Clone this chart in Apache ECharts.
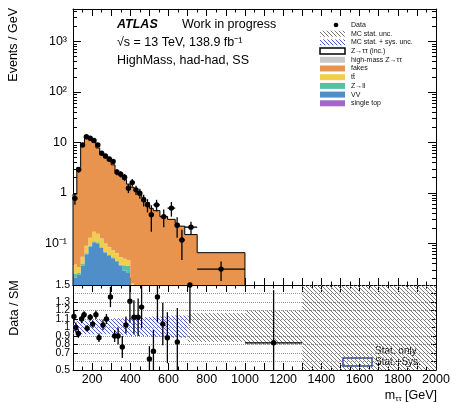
<!DOCTYPE html>
<html>
<head>
<meta charset="utf-8">
<script src="https://cdn.jsdelivr.net/npm/echarts@6.0.0/dist/echarts.min.js"></script>
<style>
  html, body { margin: 0; padding: 0; background: #fff; }
  #chart { width: 451px; height: 402px; }
</style>
</head>
<body>
<div id="chart"></div>
<script>
// main panel: events / GeV, variable binning in m_tautau (GeV)
const binEdges = [100, 120, 140, 160, 180, 200, 220, 240, 260, 280, 300, 320, 340, 360, 380, 400, 420, 440, 460, 480, 500, 520, 555, 595, 635, 655, 685, 750, 1000]
const singleTop = [0.001, 0.002, 0.001, 0.001, 0.001, 0.001, 0.001, 0.001, 0.001, 0.001, 0.001, 0.001, 0.001, 0.001, 0.001, 0.0005, 0.0005, 0.0005, 0.0005, 0.0005, 0.0003, 0.0003, 0.0003, 0.0003, 0.0003, 0.0003, 0.0003, 0.0003]
const vv = [0.02, 0.022, 0.035, 0.06, 0.085, 0.105, 0.1, 0.08, 0.065, 0.055, 0.05, 0.042, 0.035, 0.028, 0.025, 0.01, 0.008, 0.006, 0.005, 0.004, 0.003, 0.003, 0.002, 0.002, 0.002, 0.002, 0.001, 0.001]
const zll = [0.004, 0.002, 0.003, 0.003, 0.003, 0.004, 0.004, 0.003, 0.003, 0.003, 0.002, 0.002, 0.002, 0.008, 0.01, 0.002, 0.001, 0.001, 0.001, 0.001, 0.001, 0.001, 0.001, 0.001, 0.001, 0.001, 0.0005, 0.0005]
const ttbar = [0.013, 0.008, 0.015, 0.025, 0.04, 0.06, 0.05, 0.04, 0.03, 0.025, 0.02, 0.018, 0.015, 0.012, 0.01, 0.003, 0.002, 0.002, 0.002, 0.001, 0.001, 0.001, 0.001, 0.001, 0.001, 0.001, 0.0005, 0.0005]
const highMass = [0.0001, 0.0002, 0.0003, 0.0004, 0.0004, 0.0005, 0.0005, 0.0005, 0.0005, 0.0005, 0.0005, 0.0005, 0.0005, 0.0005, 0.0005, 0.0005, 0.0005, 0.0005, 0.0005, 0.0005, 0.0005, 0.0005, 0.0005, 0.0004, 0.0004, 0.0004, 0.0003, 0.0002]
const fakes = [0.91, 3.17, 9.45, 13.4, 12.07, 9.83, 7.64, 5.78, 4.9, 4.22, 3.53, 2.64, 2.25, 1.8, 1.45, 1.28, 1.09, 0.91, 0.79, 0.64, 0.49, 0.44, 0.335, 0.295, 0.245, 0.215, 0.147, 0.063]
const dataVals = [0.78, 2.9, 8.9, 13, 12.1, 10.9, 8.9, 6.1, 5.4, 4.7, 4.2, 2.6, 2.35, 2.05, 1.24, 1.6, 1.15, 0.99, 0.73, 0.58, 0.37, 0.58, 0.34, 0.5, 0.23, 0.117, 0.21, 0.031]
const dataErr = [0.2, 0.38, 0.67, 0.8, 0.78, 0.74, 0.67, 0.55, 0.52, 0.48, 0.46, 0.36, 0.34, 0.32, 0.25, 0.28, 0.24, 0.22, 0.19, 0.17, 0.2, 0.15, 0.13, 0.16, 0.1, 0.07, 0.06, 0.013]

// ratio panel: data / SM
const ratioX = [105, 115, 128, 145, 158, 174, 190, 203, 220, 236, 257, 275, 296, 318, 336, 358, 377, 398, 419, 441, 459, 500, 521, 542, 570, 594, 646, 712, 1150]
const ratioVal = [1.13, 1.0, 0.93, 1.10, 1.15, 0.99, 1.12, 1.04, 1.15, 0.88, 1.03, 1.10, 1.36, 0.90, 0.90, 0.77, 1.03, 1.31, 1.12, 1.12, 1.24, 0.63, 0.72, 1.36, 1.04, 0.88, 0.83, 1.5, 0.82]
const ratioErr = [0.07, 0.06, 0.05, 0.05, 0.04, 0.04, 0.04, 0.04, 0.05, 0.05, 0.06, 0.06, 0.12, 0.07, 0.1, 0.13, 0.1, 0.25, 0.2, 0.22, 0.25, 0.15, 0.25, 0.3, 0.25, 0.3, 0.4, 0.45, 0.62]
const ratioXErr = [5, 5, 5, 5, 5, 5, 5, 5, 5, 5, 5, 5, 5, 5, 5, 5, 5, 5, 5, 5, 5, 5, 5, 5, 5, 5, 5, 5, 150]
const statSysEdges = [100, 200, 300, 400, 500, 600, 700]
const statSysLo = [0.92, 0.92, 0.91, 0.9, 0.89, 0.88]
const statSysHi = [1.08, 1.1, 1.11, 1.12, 1.13, 1.14]
const statOnlyEdges = [700, 1000, 1300, 2000]
const statOnlyLo = [0.83, 0.8, 0.5]
const statOnlyHi = [1.17, 1.2, 1.5]

// tick labels
const xTickLabels = [200, 400, 600, 800, 1000, 1200, 1400, 1600, 1800, 2000]
const logTickExp = [-2, -1, 0, 1, 2, 3]
const logTickLabels = ['10⁻²', '10⁻¹', '1', '10', '10²', '10³']
const ratioTickLabels = ['0.5', '0.6', '0.7', '0.8', '0.9', '1', '1.1', '1.2', '1.3', '1.4', '1.5']

const yMin = 0.015
const yMax = 4400
const font = 'Liberation Sans, Arial, Helvetica, sans-serif'
const colors = {
  fakes: '#e8944f',
  ttbar: '#f3cd4e',
  zll: '#55c2a4',
  vv: '#4f8ec8',
  singleTop: '#a067c8',
  highMass: '#c9c9c9'
}

function hatch(color, step) {
  const c = document.createElement('canvas')
  c.width = step
  c.height = step
  const g = c.getContext('2d')
  g.strokeStyle = color
  g.lineWidth = 1
  g.beginPath()
  g.moveTo(-1, -1); g.lineTo(step + 1, step + 1)
  g.moveTo(-1, step - 1); g.lineTo(1, step + 1)
  g.moveTo(step - 1, -1); g.lineTo(step + 1, 1)
  g.stroke()
  return { image: c, repeat: 'repeat' }
}
const greyHatch = hatch('#7a7a7a', 4)
const blueHatch = hatch('#4f5ad8', 4)

const nBins = binEdges.length - 1
const centers = binEdges.slice(1).map((hi, i) => (binEdges[i] + hi) / 2)

// stacked histogram, one polygon per component
function histSeries(name, lower, upper, color) {
  return {
    type: 'custom',
    name,
    xAxisIndex: 0,
    yAxisIndex: 0,
    silent: true,
    data: centers.map((c, i) => [c, upper[i]]),
    renderItem(params, api) {
      if (params.dataIndex !== 0) return null
      const pts = []
      for (let i = 0; i < nBins; i++) {
        const t = Math.max(upper[i], yMin)
        pts.push(api.coord([binEdges[i], t]), api.coord([binEdges[i + 1], t]))
      }
      for (let i = nBins - 1; i >= 0; i--) {
        const b = Math.max(lower[i], yMin)
        pts.push(api.coord([binEdges[i + 1], b]), api.coord([binEdges[i], b]))
      }
      return { type: 'polygon', shape: { points: pts }, style: { fill: color } }
    }
  }
}

const stackOrder = [
  ['single top', singleTop, colors.singleTop],
  ['VV', vv, colors.vv],
  ['Z→ll', zll, colors.zll],
  ['tt̄', ttbar, colors.ttbar],
  ['high-mass Z→ττ', highMass, colors.highMass],
  ['fakes', fakes, colors.fakes]
]
let running = centers.map(() => 0)
const stackSeries = stackOrder.map(([name, vals, color]) => {
  const lower = running
  const upper = lower.map((v, i) => v + vals[i])
  running = upper
  return histSeries(name, lower, upper, color)
})
const mcTotal = running

const outlineSeries = {
  type: 'custom',
  name: 'total',
  xAxisIndex: 0,
  yAxisIndex: 0,
  silent: true,
  data: centers.map((c, i) => [c, mcTotal[i]]),
  renderItem(params, api) {
    if (params.dataIndex !== 0) return null
    const pts = [api.coord([binEdges[0], yMin])]
    for (let i = 0; i < nBins; i++) {
      pts.push(api.coord([binEdges[i], mcTotal[i]]), api.coord([binEdges[i + 1], mcTotal[i]]))
    }
    pts.push(api.coord([binEdges[nBins], yMin]))
    return { type: 'polyline', shape: { points: pts }, style: { stroke: '#000', lineWidth: 1, fill: null } }
  }
}

function pointRender(lowClamp, highClamp) {
  return function (params, api) {
    const x = api.value(0), v = api.value(1), e = api.value(2)
    const lo = api.value(3), hi = api.value(4)
    const c = api.coord([x, v])
    const top = api.coord([x, Math.min(v + e, highClamp)])
    const bot = api.coord([x, Math.max(v - e, lowClamp)])
    const l = api.coord([lo, v])
    const r = api.coord([hi, v])
    return {
      type: 'group',
      children: [
        { type: 'line', shape: { x1: c[0], y1: top[1], x2: c[0], y2: bot[1] }, style: { stroke: '#000', lineWidth: 1.3 } },
        { type: 'line', shape: { x1: l[0], y1: c[1], x2: r[0], y2: c[1] }, style: { stroke: '#000', lineWidth: 1.3 } },
        { type: 'circle', shape: { cx: c[0], cy: c[1], r: 2.7 }, style: { fill: '#000' } }
      ]
    }
  }
}

const dataSeries = {
  type: 'custom',
  name: 'Data',
  xAxisIndex: 0,
  yAxisIndex: 0,
  silent: true,
  z: 5,
  data: centers.map((c, i) => [c, dataVals[i], dataErr[i], binEdges[i], binEdges[i + 1]]),
  renderItem: pointRender(yMin, yMax)
}

function bandSeries(name, edges, lo, hi, fill, z) {
  return {
    type: 'custom',
    name,
    xAxisIndex: 2,
    yAxisIndex: 2,
    silent: true,
    z,
    data: lo.map((v, i) => [(edges[i] + edges[i + 1]) / 2, v, hi[i]]),
    renderItem(params, api) {
      if (params.dataIndex !== 0) return null
      const pts = []
      for (let i = 0; i < lo.length; i++) {
        pts.push(api.coord([edges[i], hi[i]]), api.coord([edges[i + 1], hi[i]]))
      }
      for (let i = lo.length - 1; i >= 0; i--) {
        pts.push(api.coord([edges[i + 1], lo[i]]), api.coord([edges[i], lo[i]]))
      }
      return { type: 'polygon', shape: { points: pts }, style: { fill } }
    }
  }
}

const ratioSeries = {
  type: 'custom',
  name: 'ratio',
  xAxisIndex: 2,
  yAxisIndex: 2,
  silent: true,
  z: 5,
  data: ratioX.map((x, i) => [x, ratioVal[i], ratioErr[i], x - ratioXErr[i], x + ratioXErr[i]]),
  renderItem: pointRender(0.5, 1.5)
}

const axisLine = { show: true, onZero: false, lineStyle: { color: '#000', width: 1 } }
function xAx(grid, pos, labels) {
  return {
    type: 'value', gridIndex: grid, position: pos, min: 100, max: 2000, interval: 100,
    axisLine,
    axisTick: { show: true, inside: true, length: 7, lineStyle: { color: '#000' } },
    minorTick: { show: true, splitNumber: 2, length: 3.5, lineStyle: { color: '#000' } },
    axisLabel: {
      show: labels, margin: 3, color: '#000', fontSize: 12.5, fontFamily: font,
      formatter: v => xTickLabels.includes(v) ? String(v) : ''
    },
    splitLine: { show: false }
  }
}
function logAx(pos, labels) {
  return {
    type: 'log', logBase: 10, gridIndex: 0, position: pos, min: yMin, max: yMax,
    axisLine,
    axisTick: { show: true, inside: true, length: 8, lineStyle: { color: '#000' } },
    minorTick: { show: true, splitNumber: 9, length: 4, lineStyle: { color: '#000' } },
    axisLabel: {
      show: labels, margin: 6, color: '#000', fontSize: 12.5, fontFamily: font,
      showMinLabel: false, showMaxLabel: false,
      formatter: v => {
        const e = Math.log10(v)
        const k = logTickExp.indexOf(Math.round(e))
        return (Math.abs(e - Math.round(e)) < 1e-6 && k >= 0) ? logTickLabels[k] : ''
      }
    },
    splitLine: { show: false }
  }
}
function ratioAx(pos, labels) {
  return {
    type: 'value', gridIndex: 1, position: pos, min: 0.5, max: 1.5, interval: 0.1,
    axisLine,
    axisTick: { show: true, inside: true, length: 5, lineStyle: { color: '#000' } },
    axisLabel: {
      show: labels, margin: 3, color: '#000', fontSize: 10.5, fontFamily: font,
      showMinLabel: true, showMaxLabel: true, hideOverlap: false,
      formatter: v => ratioTickLabels[Math.round((v - 0.5) * 10)] || ''
    },
    splitLine: { show: labels, lineStyle: { color: '#999', type: 'dotted', width: 1 } }
  }
}

// legend entries (drawn by hand, ROOT style)
const legendItems = [
  ['Data', 'marker'],
  ['MC stat. unc.', greyHatch],
  ['MC stat. + sys. unc.', blueHatch],
  ['Z→ττ (inc.)', 'outline'],
  ['high-mass Z→ττ', colors.highMass],
  ['fakes', colors.fakes],
  ['tt̄', colors.ttbar],
  ['Z→ll', colors.zll],
  ['VV', colors.vv],
  ['single top', colors.singleTop]
]
const graphics = []
legendItems.forEach(([label, sym], i) => {
  const y = 25 + i * 8.7
  if (sym === 'marker') {
    graphics.push({ type: 'circle', shape: { cx: 336, cy: y, r: 2.3 }, style: { fill: '#000' } })
  } else if (sym === 'outline') {
    graphics.push({ type: 'rect', shape: { x: 320, y: y - 3, width: 25, height: 6 }, style: { fill: '#fff', stroke: '#000', lineWidth: 1.5 } })
  } else {
    graphics.push({ type: 'rect', shape: { x: 320, y: y - 3, width: 25, height: 6 }, style: { fill: sym } })
  }
  graphics.push({ type: 'text', x: 351, y, style: { text: label, fontSize: 7, fontFamily: font, fill: '#111', textVerticalAlign: 'middle' } })
})
graphics.push(
  { type: 'text', x: 117, y: 25, style: { text: 'ATLAS', fontSize: 12.5, fontWeight: 'bold', fontStyle: 'italic', fontFamily: font, fill: '#000', textVerticalAlign: 'middle' } },
  { type: 'text', x: 182, y: 25, style: { text: 'Work in progress', fontSize: 12.5, fontFamily: font, fill: '#000', textVerticalAlign: 'middle' } },
  { type: 'text', x: 117, y: 43, style: { text: '√s = 13 TeV, 138.9 fb⁻¹', fontSize: 12.5, fontFamily: font, fill: '#000', textVerticalAlign: 'middle' } },
  { type: 'text', x: 117, y: 61, style: { text: 'HighMass, had-had, SS', fontSize: 12.5, fontFamily: font, fill: '#000', textVerticalAlign: 'middle' } },
  { type: 'text', x: 14, y: 8, rotation: Math.PI / 2, style: { text: 'Events / GeV', fontSize: 12.5, fontFamily: font, fill: '#000', textAlign: 'right', textVerticalAlign: 'middle' } },
  { type: 'text', x: 15, y: 308, rotation: Math.PI / 2, style: { text: 'Data / SM', fontSize: 12.5, fontFamily: font, fill: '#000', textAlign: 'center', textVerticalAlign: 'middle' } },
  {
    type: 'text', x: 437, y: 396,
    style: {
      text: '{a|m}{b|ττ}{a| [GeV]}', textAlign: 'right', textVerticalAlign: 'middle', fill: '#000',
      rich: { a: { fontSize: 12.5, fontFamily: font }, b: { fontSize: 8, fontFamily: font, verticalAlign: 'bottom', padding: [6, 0, 0, 0] } }
    }
  },
  { type: 'rect', shape: { x: 343, y: 347, width: 29, height: 8 }, style: { fill: greyHatch } },
  { type: 'rect', shape: { x: 343, y: 358, width: 29, height: 8 }, style: { fill: blueHatch, stroke: '#2233cc', lineWidth: 1.5 } },
  { type: 'text', x: 375, y: 351, style: { text: 'Stat. only', fontSize: 10, fontFamily: font, fill: '#000', textVerticalAlign: 'middle' } },
  { type: 'text', x: 375, y: 362, style: { text: 'Stat.+Sys.', fontSize: 10, fontFamily: font, fill: '#000', textVerticalAlign: 'middle' } }
)

const chart = echarts.init(document.getElementById('chart'), null, { renderer: 'canvas' })
chart.setOption({
  animation: false,
  backgroundColor: '#fff',
  textStyle: { fontFamily: font },
  grid: [
    { left: 73, right: 15, top: 9, height: 276, outerBoundsMode: 'none' },
    { left: 73, right: 15, top: 285, height: 85, outerBoundsMode: 'none' }
  ],
  xAxis: [xAx(0, 'bottom', false), xAx(0, 'top', false), xAx(1, 'bottom', true), xAx(1, 'top', false)],
  yAxis: [logAx('left', true), logAx('right', false), ratioAx('left', true), ratioAx('right', false)],
  series: [
    ...stackSeries,
    outlineSeries,
    dataSeries,
    bandSeries('Stat.+Sys.', statSysEdges, statSysLo, statSysHi, blueHatch, 2),
    bandSeries('Stat. only', statOnlyEdges, statOnlyLo, statOnlyHi, greyHatch, 2),
    ratioSeries
  ],
  graphic: graphics
})
</script>
</body>
</html>
